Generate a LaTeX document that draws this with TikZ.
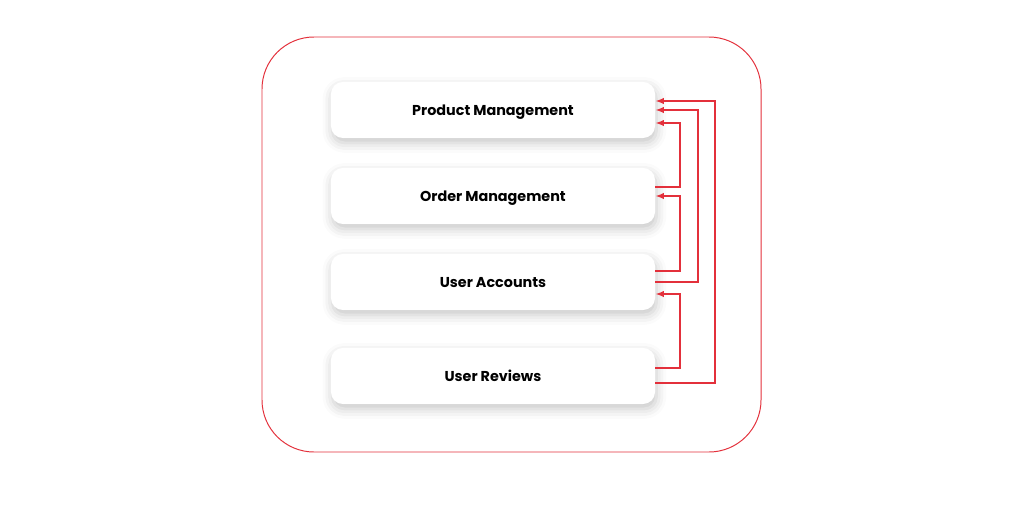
\documentclass[tikz,border=0pt]{standalone}
\usepackage{fontspec}
\setmainfont{Poppins}
\usetikzlibrary{arrows.meta,positioning,shadows.blur}
\definecolor{linkred}{HTML}{E3303B}

\begin{document}
\begin{tikzpicture}[x=0.025cm,y=-0.025cm,
  module/.style={fill=white,rounded corners=0.3cm,minimum width=8.1cm,
    minimum height=1.4cm,text depth=0pt,font=\bfseries\fontsize{10.2}{12}\selectfont,
    blur shadow={shadow xshift=1pt,shadow yshift=-3.5pt,shadow blur radius=7pt,shadow opacity=22}},
  link/.style={linkred,line width=1.3pt,-{Latex[length=6pt,width=4.5pt]}}]
 \useasboundingbox (0,0) rectangle (1024,506);
 \draw[linkred,line width=0.7pt,rounded corners=1.3cm] (262,37) rectangle (761,452);
 % modules
 \node[module] (pm) at (493,110) {Product Management};
 \node[module] (om) at (493,196) {Order Management};
 \node[module] (ua) at (493,282) {User Accounts};
 \node[module] (rev) at (493,376) {User Reviews};
 % dependencies
 \draw[link] ([yshift=-0.175cm]rev.east) -- ++(60,0) |- ([yshift=0.225cm]pm.east);
 \draw[link] (ua.east) -- ++(43,0) |- (pm.east);
 \draw[link] ([yshift=0.225cm]om.east) -- ++(25,0) |- ([yshift=-0.325cm]pm.east);
 \draw[link] ([yshift=0.275cm]ua.east) -- ++(25,0) |- (om.east);
 \draw[link] ([yshift=0.2cm]rev.east) -- ++(25,0) |- ([yshift=-0.3cm]ua.east);
\end{tikzpicture}
\end{document}
